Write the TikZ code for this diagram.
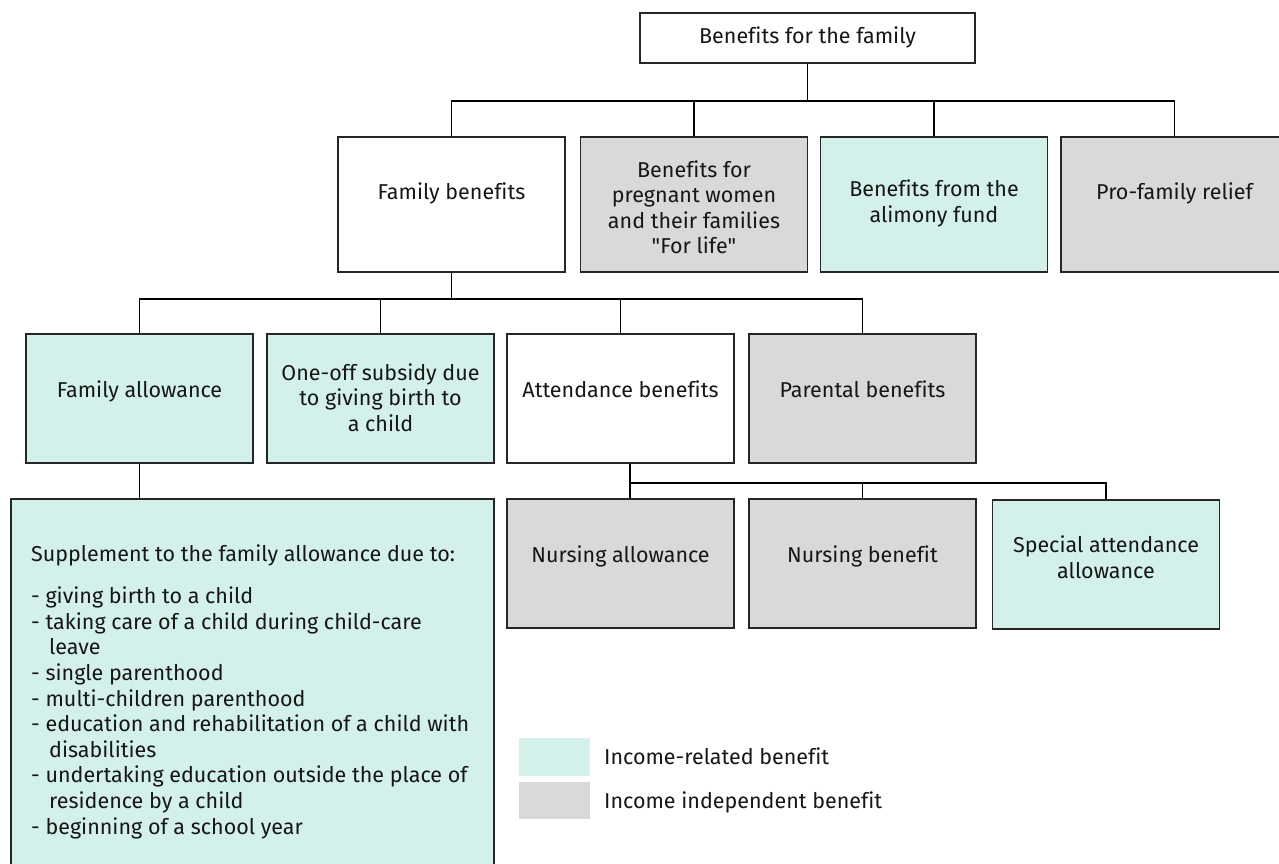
\documentclass[tikz,border=0pt]{standalone}
\usepackage{fontspec}
\setmainfont{Fira Sans}[Ligatures=NoCommon]
\definecolor{mint}{RGB}{211,241,234}
\definecolor{greyfill}{RGB}{217,217,217}
\definecolor{ink}{RGB}{22,22,22}
\begin{document}
\begin{tikzpicture}[x=1pt,y=-1pt,
  box/.style={draw=black!85, line width=1.3pt, inner sep=0pt, minimum width=227pt},
  lvltwo/.style={box, minimum height=135pt},
  lvlthree/.style={box, minimum height=129pt},
  txt/.style={anchor=base, align=center, text=ink, inner sep=0pt, font=\fontsize{21.5}{25.5}\selectfont},
  ltxt/.style={anchor=base west, align=left, text=ink, inner sep=0pt, font=\fontsize{21.5}{25.6}\selectfont},
  conn/.style={draw=black, line width=1.8pt}]
\useasboundingbox (0,0) rectangle (1279,864);
% boxes
\node[box, minimum width=335pt, minimum height=50pt, fill=white] (top) at (807.5,38) {};
\node[lvltwo, fill=white] (fb) at (451.5,204.5) {};
\node[lvltwo, fill=greyfill] (preg) at (694,204.5) {};
\node[lvltwo, fill=mint] (alim) at (934,204.5) {};
\node[lvltwo, fill=greyfill] (pro) at (1174.5,204.5) {};
\node[lvlthree, fill=mint] (fa) at (139.5,398.5) {};
\node[lvlthree, fill=mint] (one) at (380.5,398.5) {};
\node[lvlthree, fill=white] (att) at (620.5,398.5) {};
\node[lvlthree, fill=greyfill] (par) at (862.5,398.5) {};
\node[lvlthree, fill=greyfill] (na) at (620.5,563.5) {};
\node[lvlthree, fill=greyfill] (nb) at (862.5,563.5) {};
\node[lvlthree, fill=mint] (sa) at (1106,564.5) {};
\node[box, minimum width=483pt, minimum height=381pt, fill=mint] (big) at (252.5,689.5) {};
% legend swatches
\node[fill=mint, inner sep=0pt, minimum width=71pt, minimum height=38pt] (lg1) at (554.5,757) {};
\node[fill=greyfill, inner sep=0pt, minimum width=71pt, minimum height=37pt] (lg2) at (554.5,800.5) {};
% bus coordinates
\coordinate (b1) at (0,101);
\coordinate (b2) at (0,299);
\coordinate (b3) at (630,483);
% connectors
\draw[conn] (top.south) -- (top.south |- b1);
\draw[conn] (fb.north) -- (fb.north |- b1) -- (pro.north |- b1) -- (pro.north);
\draw[conn] (preg.north) -- (preg.north |- b1);
\draw[conn] (alim.north) -- (alim.north |- b1);
\draw[conn] (fb.south) -- (fb.south |- b2);
\draw[conn] (fa.north) -- (fa.north |- b2) -- (par.north |- b2) -- (par.north);
\draw[conn] (one.north) -- (one.north |- b2);
\draw[conn] (att.north) -- (att.north |- b2);
\draw[conn] (fa.south) -- (fa.south |- big.north);
\draw[conn] ([xshift=9.5pt]att.south) -- (b3) -- (b3 -| sa.north) -- (sa.north);
\draw[conn] (b3) -- (b3 |- na.north);
\draw[conn] (nb.north |- b3) -- (nb.north);
% texts (base anchor = baseline of the last line)
\node[txt] (ttop) at (807.5,44) {Benefits for the family};
\node[txt] (tfb) at (451.5,199) {Family benefits};
\node[txt] (tpreg) at (694,253.5) {Benefits for\\pregnant women\\and their families\\\textquotedbl For life\textquotedbl};
\node[txt] (talim) at (934,222) {Benefits from the\\alimony fund};
\node[txt] (tpro) at (1174.5,199) {Pro-family relief};
\node[txt] (tfa) at (139.5,397) {Family allowance};
\node[txt] (tone) at (380.5,431) {One-off subsidy due\\to giving birth to\\a child};
\node[txt] (tatt) at (620.5,397) {Attendance benefits};
\node[txt] (tpar) at (862.5,397) {Parental benefits};
\node[txt] (tna) at (620.5,562.5) {Nursing allowance};
\node[txt] (tnb) at (862.5,562.5) {Nursing benefit};
\node[txt] (tsa) at (1106,578) {Special attendance\\allowance};
\node[ltxt] (tbig) at (31,834) {Supplement to the family allowance due to:\\[16.4pt]
- giving birth to a child\\
- taking care of a child during child-care\\
\hspace*{18pt}leave\\
- single parenthood\\
- multi-children parenthood\\
- education and rehabilitation of a child with\\
\hspace*{18pt}disabilities\\
- undertaking education outside the place of\\
\hspace*{18pt}residence by a child\\
- beginning of a school year};
\node[ltxt] (tlg1) at (604,764) {Income-related benefit};
\node[ltxt] (tlg2) at (604,808) {Income independent benefit};
\end{tikzpicture}
\end{document}
